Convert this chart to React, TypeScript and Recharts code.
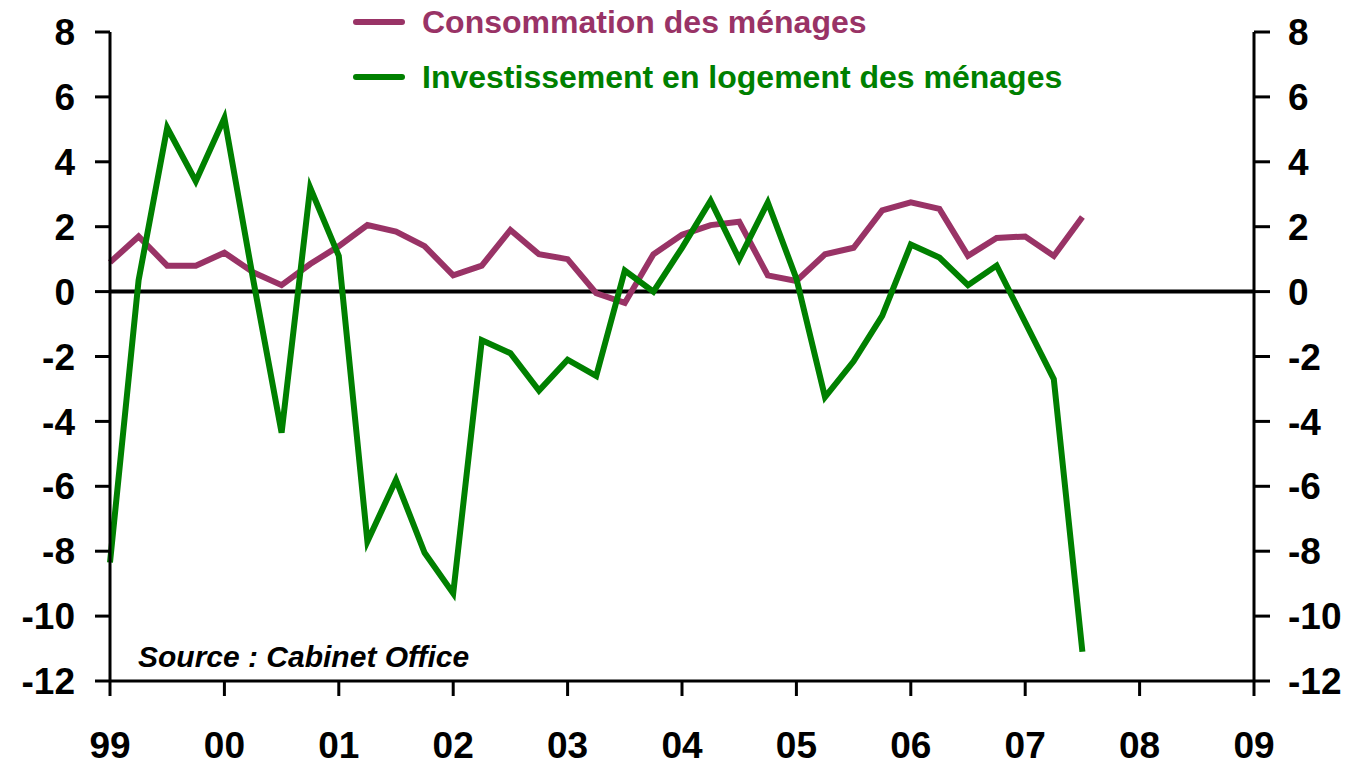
import { LineChart, Line, XAxis, YAxis, ReferenceLine, Legend } from 'recharts';

const quarters = [
  '99T1', '99T2', '99T3', '99T4',
  '00T1', '00T2', '00T3', '00T4',
  '01T1', '01T2', '01T3', '01T4',
  '02T1', '02T2', '02T3', '02T4',
  '03T1', '03T2', '03T3', '03T4',
  '04T1', '04T2', '04T3', '04T4',
  '05T1', '05T2', '05T3', '05T4',
  '06T1', '06T2', '06T3', '06T4',
  '07T1', '07T2', '07T3',
];

const consommation = [
  0.9, 1.7, 0.8, 0.8,
  1.2, 0.6, 0.2, 0.85,
  1.4, 2.05, 1.85, 1.4,
  0.5, 0.8, 1.9, 1.15,
  1.0, -0.05, -0.35, 1.15,
  1.75, 2.05, 2.15, 0.5,
  0.33, 1.15, 1.35, 2.5,
  2.75, 2.55, 1.1, 1.65,
  1.7, 1.1, 2.3,
];

const investissement = [
  -8.35, 0.35, 5.05, 3.4,
  5.35, 0.4, -4.35, 3.2,
  1.1, -7.7, -5.8, -8.05,
  -9.3, -1.5, -1.9, -3.05,
  -2.1, -2.6, 0.65, 0.0,
  1.35, 2.8, 1.0, 2.75,
  0.4, -3.25, -2.15, -0.75,
  1.45, 1.05, 0.2, 0.8,
  -0.95, -2.7, -11.1,
];

const yearLabels = ['99', '00', '01', '02', '03', '04', '05', '06', '07', '08', '09'];
const yTicks = [-12, -10, -8, -6, -4, -2, 0, 2, 4, 6, 8];

const PURPLE = '#993366';
const GREEN = '#008000';
const FONT = '"Liberation Sans", Arial, sans-serif';

const data = quarters.map((q, i) => ({
  t: i,
  q,
  conso: consommation[i],
  invest: investissement[i],
}));

const yearTicks = yearLabels.map((_, i) => i * 4);

const legendItems = [
  { label: 'Consommation des ménages', color: PURPLE },
  { label: 'Investissement en logement des ménages', color: GREEN },
];

function LegendBox() {
  return (
    <div style={{ fontFamily: FONT, fontWeight: 'bold', fontSize: 32 }}>
      {legendItems.map((item, i) => (
        <div
          key={item.label}
          style={{
            display: 'flex',
            alignItems: 'center',
            height: 32,
            lineHeight: '32px',
            marginTop: i === 0 ? 0 : 23,
            color: item.color,
            whiteSpace: 'nowrap',
          }}
        >
          <div
            style={{
              width: 52,
              height: 6,
              borderRadius: 3,
              background: item.color,
              marginRight: 17,
            }}
          />
          {item.label}
        </div>
      ))}
    </div>
  );
}

const yTick = { fill: '#000', fontSize: 37, fontWeight: 'bold', fontFamily: FONT };
const xTick = { fill: '#000', fontSize: 37, fontWeight: 'bold', fontFamily: FONT };

export default function App() {
  return (
    <div style={{ position: 'absolute', left: 0, top: 0, width: 1354, height: 767, background: '#fff' }}>
      <LineChart
        width={1354}
        height={767}
        data={data}
        margin={{ top: 32, right: 0, bottom: 0, left: 0 }}
      >
        <XAxis
          type="number"
          dataKey="t"
          domain={[0, 40]}
          ticks={yearTicks}
          interval={0}
          tickFormatter={(v) => yearLabels[v / 4]}
          height={86}
          tickSize={15}
          tickMargin={36}
          tick={xTick}
          axisLine={{ stroke: '#000', strokeWidth: 3 }}
          tickLine={{ stroke: '#000', strokeWidth: 3 }}
        />
        <YAxis
          yAxisId="left"
          domain={[-12, 8]}
          ticks={yTicks}
          interval={0}
          width={110}
          tickSize={15}
          tickMargin={20}
          tick={yTick}
          axisLine={{ stroke: '#000', strokeWidth: 3 }}
          tickLine={{ stroke: '#000', strokeWidth: 3 }}
        />
        <YAxis
          yAxisId="right"
          orientation="right"
          domain={[-12, 8]}
          ticks={yTicks}
          interval={0}
          width={100}
          tickSize={16}
          tickMargin={18}
          tick={yTick}
          axisLine={{ stroke: '#000', strokeWidth: 3 }}
          tickLine={{ stroke: '#000', strokeWidth: 3 }}
        />
        <ReferenceLine yAxisId="left" y={0} stroke="#000" strokeWidth={4} />
        <Line
          yAxisId="left"
          type="linear"
          dataKey="conso"
          stroke={PURPLE}
          strokeWidth={6}
          dot={false}
          isAnimationActive={false}
        />
        <Line
          yAxisId="right"
          type="linear"
          dataKey="invest"
          stroke={GREEN}
          strokeWidth={6}
          dot={false}
          isAnimationActive={false}
        />
        <Legend
          layout="vertical"
          align="center"
          verticalAlign="middle"
          content={() => <LegendBox />}
          wrapperStyle={{ position: 'absolute', left: 353, top: 6, width: 800, height: 90 }}
        />
      </LineChart>
      <div
        style={{
          position: 'absolute',
          left: 138,
          top: 642,
          fontFamily: FONT,
          fontWeight: 'bold',
          fontStyle: 'italic',
          fontSize: 30,
          lineHeight: '30px',
          whiteSpace: 'nowrap',
          color: '#000',
        }}
      >
        Source : Cabinet Office
      </div>
    </div>
  );
}
